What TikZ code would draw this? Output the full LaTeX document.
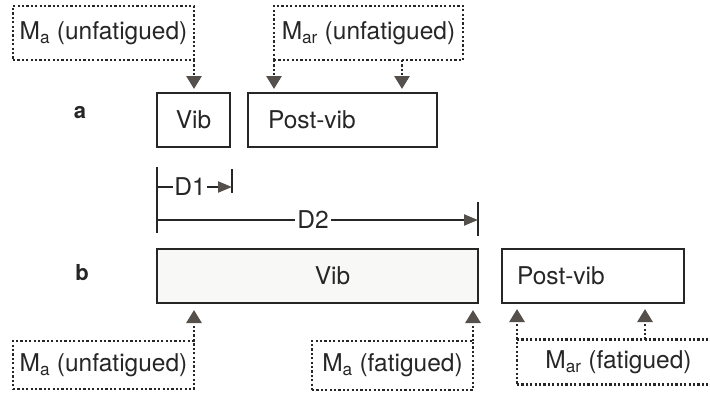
\documentclass[tikz,border=0pt]{standalone}
\usepackage{fontspec}
\setmainfont{TeX Gyre Heros}
\usetikzlibrary{arrows.meta}
\definecolor{ink}{HTML}{262626}
\definecolor{tipgray}{HTML}{55504B}
\definecolor{vibfill}{HTML}{F8F8F6}
\tikzset{
  phase/.style={draw=ink,line width=2.8,minimum height=54,inner sep=0,outer sep=0},
  moment/.style={draw=ink,line width=2.8,dash pattern=on 2.2pt off 2.2pt,
    minimum height=54,inner sep=0,outer sep=0},
  feed/.style={draw=ink,line width=2.8,dash pattern=on 2.2pt off 2.2pt,
    -{Triangle[width=15pt,length=13pt,color=tipgray]}},
  span/.style={draw=ink,line width=2.2},
  spanarrow/.style={span,-{Triangle[width=11pt,length=14pt,color=tipgray]}},
  tag/.style={font=\fontsize{22}{26}\selectfont\bfseries}
}
\begin{document}
\begin{tikzpicture}[x=1pt,y=-1pt,text=ink,font=\fontsize{24.5}{28}\selectfont]
\path[use as bounding box,clip] (0,0) rectangle (710,399);

% a: unfatigued test
\node[tag] (tagA) at (80,113) {a};
\node[phase,minimum width=73] (vibA) at (193.5,120) {Vib};
\node[phase,text width=149,inner xsep=20,align=left] (postA) at (342.5,120) {Post-vib};
\node[moment,minimum width=181] (maA) at (103.5,33) {M\textsubscript{a} (unfatigued)};
\node[moment,minimum width=189] (marA) at (368.5,33) {M\textsubscript{ar} (unfatigued)};
\coordinate (marAtap) at (402,60);
\draw[feed,shorten >=4pt] (maA.south east) -- (maA.south east |- vibA.north);
\draw[feed,shorten >=4pt] (marA.south west) -- (marA.south west |- postA.north);
\draw[feed,shorten >=4pt] (marAtap) -- (marAtap |- postA.north);

% durations
\coordinate (dtop) at (157,167);
\coordinate (dbot) at (157,233);
\coordinate (d1top) at (232,169);
\coordinate (d1bot) at (232,193);
\coordinate (d2top) at (478,202);
\coordinate (d2bot) at (478,236);
\draw[span] (dtop) -- (dbot);
\draw[span] (d1top) -- (d1bot);
\draw[span] (d2top) -- (d2bot);
\node[inner sep=1] (d1) at (190,187) {D1};
\node[inner sep=2] (d2) at (313,220) {D2};
\draw[span] (dtop |- d1) -- (d1);
\draw[spanarrow] (d1) -- (d1 -| d1top);
\draw[span] (dtop |- d2) -- (d2);
\draw[spanarrow] (d2) -- (d2 -| d2top);

% b: fatigued test
\node[tag] (tagB) at (82,273) {b};
\node[phase,fill=vibfill,text width=291,inner xsep=15,align=center] (vibB) at (317.5,276) {\hspace*{30pt}Vib};
\node[phase,text width=152,inner xsep=15,align=left] (postB) at (593,276) {Post-vib};
\node[moment,minimum width=181,minimum height=48] (maB) at (103.5,365) {M\textsubscript{a} (unfatigued)};
\node[moment,minimum width=161,minimum height=49] (maF) at (392.5,365.5) {M\textsubscript{a} (fatigued)};
\node[moment,minimum width=203,minimum height=45] (marF) at (618.5,362) {M\textsubscript{ar} (fatigued)};
\coordinate (marFtap) at (645,339.5);
\draw[feed,shorten >=7pt] (maB.north east) -- (maB.north east |- vibB.south);
\draw[feed,shorten >=7pt] (maF.north east) -- (maF.north east |- vibB.south);
\draw[feed,shorten >=6pt] (marF.north west) -- (marF.north west |- postB.south);
\draw[feed,shorten >=6pt] (marFtap) -- (marFtap |- postB.south);
\end{tikzpicture}
\end{document}
